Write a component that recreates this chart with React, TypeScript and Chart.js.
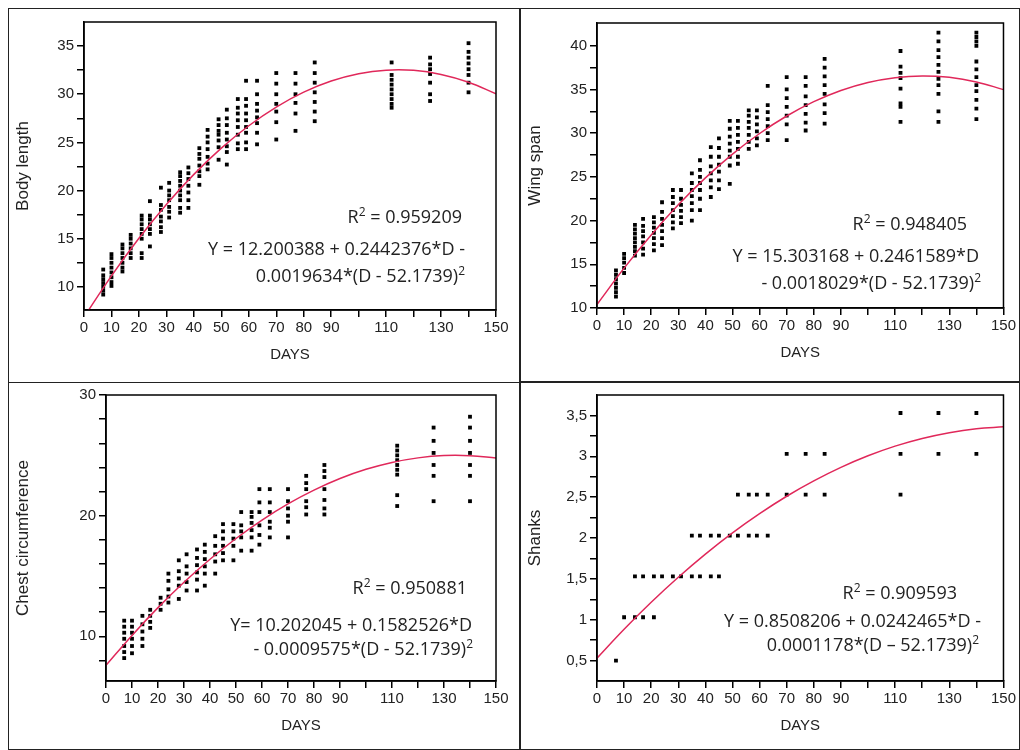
import React, { useEffect, useRef } from "react";
import { Chart, registerables } from "chart.js";
Chart.register(...registerables);

const DAYS = [7, 10, 14, 17, 21, 24, 28, 31, 35, 38, 42, 45, 49, 52, 56, 59, 63, 70, 77, 84, 112, 126, 140];
const CURVE_X = [0, 10, 20, 30, 40, 50, 60, 70, 80, 90, 100, 110, 120, 130, 140, 150];
const X_TICKS = [0, 10, 20, 30, 40, 50, 60, 70, 80, 90, 100, 110, 120, 130, 140, 150];
const X_LABELS = ["0", "10", "20", "30", "40", "50", "60", "70", "80", "90", "", "110", "", "130", "", "150"];

const BODY = [
  [9.2, 9.6, 10, 10.4, 10.8, 11.2, 11.8], [10.1, 10.5, 11, 11.5, 12, 12.5, 13, 13.4], [11.6, 12, 12.5, 13, 13.5, 14, 14.4],
  [13, 13.5, 14, 14.5, 15, 15.4], [13, 13.5, 15, 15.5, 16, 16.5, 17, 17.4], [14.2, 15.5, 16, 16.5, 17, 17.4, 18.9],
  [15.7, 16.2, 16.8, 17.3, 18, 18.5, 20.3], [17.2, 17.8, 18.3, 19, 19.5, 20, 20.8], [17.7, 18.2, 19, 19.5, 20, 20.5, 21, 21.5, 21.9],
  [18.2, 19, 19.8, 20.5, 21.2, 21.8, 22.4], [20.6, 21.5, 22, 22.6, 23.3, 23.8, 24.4], [22.2, 22.8, 23.5, 24.3, 25, 25.6, 26.3],
  [23.2, 24.5, 25.2, 25.8, 26.2, 26.8, 27.4], [22.7, 24, 24.6, 25.3, 26, 26.8, 27.5, 28.4], [24.3, 24.9, 25.8, 26.6, 27.3, 28, 28.6, 29.5],
  [24.3, 25, 26, 26.6, 27.3, 28, 28.8, 29.5, 31.4], [24.8, 26, 27, 27.6, 28.3, 29, 30, 31.4], [25.3, 27.1, 28.2, 29, 30, 31.1, 32.2],
  [26.2, 28, 29.1, 30, 31.1, 32.2], [27.2, 28.2, 29.2, 30.2, 31.2, 32.2, 33.3], [28.6, 29, 29.5, 30, 30.5, 31, 31.5, 32, 33.3],
  [29.3, 30, 31.2, 32.1, 32.6, 33.1, 33.8], [30.2, 31.2, 32, 32.6, 33.2, 33.8, 34.4, 35.3],
];
const BODY_FIT = [6.86, 11.15, 15.05, 18.56, 21.68, 24.4, 26.73, 28.67, 30.22, 31.37, 32.13, 32.5, 32.48, 32.06, 31.25, 30.05];

const WING = [
  [11.3, 11.8, 12.3, 12.8, 13.3, 13.8, 14.3], [14, 14.6, 15.2, 15.7, 16.2], [16, 16.5, 17, 17.5, 18, 18.5, 19, 19.5],
  [16.1, 16.8, 17.5, 18.2, 18.8, 19.4, 20.2], [16.6, 17.3, 18, 18.6, 19.2, 19.8, 20.4], [17.2, 18, 18.8, 19.5, 20.2, 21, 22.1],
  [19.1, 19.8, 20.5, 21.2, 22, 22.7, 23.5], [19.7, 20.4, 21.1, 21.8, 22.5, 23.5], [20, 21.2, 22, 22.8, 23.5, 24.3, 25.4],
  [21.2, 22.5, 23.5, 24.3, 25, 25.8, 26.9], [22.7, 23.8, 24.6, 25.4, 26.2, 27.3, 28.4], [23.6, 24.6, 25.6, 26.4, 27.3, 28.3, 29.4],
  [24.2, 26.3, 27.3, 28, 28.8, 29.6, 30.5, 31.4], [26.5, 27.3, 28.2, 29, 29.8, 30.6, 31.4], [28.2, 29, 29.8, 30.6, 31.3, 32, 32.6],
  [28.6, 29.4, 30.2, 31, 31.8, 32.6], [29.2, 30, 30.8, 31.6, 32.4, 33.2, 35.4], [29.2, 31, 32, 33, 34, 35, 36.4],
  [30.3, 31.2, 32.2, 33.2, 34.2, 35.4, 36.4], [31.1, 32.3, 33.3, 34.5, 35.5, 36.5, 37.5, 38.5],
  [31.3, 33, 33.4, 35.1, 36.3, 36.9, 37.6, 39.4], [31.3, 32.5, 34.5, 35.5, 36.2, 37, 37.8, 38.7, 39.5, 40.5, 41.5],
  [31.6, 32.8, 33.8, 34.8, 35.5, 36.4, 37.3, 38.2, 40, 40.5, 41, 41.5],
];
const WING_FIT = [10.4, 14.56, 18.36, 21.8, 24.88, 27.6, 29.96, 31.96, 33.6, 34.88, 35.8, 36.35, 36.55, 36.39, 35.86, 34.98];

const CHEST = [
  [8.2, 8.7, 9.2, 9.8, 10.3, 10.8, 11.3], [8.6, 9.2, 9.8, 10.3, 10.8, 11.3], [9.2, 9.8, 10.4, 11, 11.7], [10.7, 11.2, 11.7, 12.2],
  [12.2, 12.7, 13.2], [12.8, 13.3, 13.9, 14.6, 15.2], [13.1, 14.2, 14.8, 15.4, 16.3], [13.8, 14.5, 15.2, 15.8, 16.8],
  [13.8, 14.7, 15.3, 15.9, 16.5, 17.2], [14.2, 15.2, 15.8, 16.4, 17, 17.6], [15.2, 16.2, 16.8, 17.5, 18.3], [16.3, 16.9, 17.5, 18.1, 18.7, 19.3],
  [16.3, 17.5, 18.1, 18.7, 19.3], [17.1, 18.2, 18.7, 19.2, 20.3], [17.1, 18.2, 18.8, 19.4, 19.9, 20.3], [17.6, 18.4, 19.2, 20.3, 21.1, 22.2],
  [18.2, 19, 19.5, 20.3, 21.1, 22.2], [18.2, 19.5, 20, 20.6, 21.2, 22.2], [20.1, 20.7, 21.2, 22.2, 22.7, 23.3], [20.1, 20.6, 21.3, 22.2, 23.2, 23.7, 24.2],
  [20.8, 21.7, 23.4, 23.8, 24.2, 24.6, 25, 25.4, 25.8], [21.2, 23.3, 24.2, 25.2, 26.2, 27.3], [21.2, 23.3, 24.2, 25.2, 26.2, 27.3, 28.2],
];
const CHEST_FIT = [7.6, 10.08, 12.38, 14.48, 16.39, 18.11, 19.64, 20.98, 22.12, 23.08, 23.84, 24.41, 24.79, 24.98, 24.97, 24.78];

const SHANKS = [
  [0.5], [1.03], [1.03, 1.53], [1.03, 1.53], [1.03, 1.53], [1.53], [1.53], [1.53], [1.53, 2.03], [1.53, 2.03], [1.53, 2.03], [1.53, 2.03],
  [2.03], [2.03, 2.53], [2.03, 2.53], [2.03, 2.53], [2.03, 2.53], [2.53, 3.03], [2.53, 3.03], [2.53, 3.03],
  [2.53, 3.03, 3.53], [3.03, 3.53], [3.03, 3.53],
];
const SHANKS_FIT = [0.53, 0.884, 1.214, 1.52, 1.803, 2.063, 2.298, 2.511, 2.699, 2.864, 3.006, 3.124, 3.218, 3.289, 3.337, 3.361];

const BODY_Y_TICKS = [10, 12.5, 15, 17.5, 20, 22.5, 25, 27.5, 30, 32.5, 35];
const WING_Y_TICKS = [10, 12.5, 15, 17.5, 20, 22.5, 25, 27.5, 30, 32.5, 35, 37.5, 40];
const CHEST_Y_TICKS = [8, 10, 12, 14, 16, 18, 20, 22, 24, 26, 28, 30];
const SHANKS_Y_TICKS = [0.5, 0.75, 1, 1.25, 1.5, 1.75, 2, 2.25, 2.5, 2.75, 3, 3.25, 3.5];

type PanelCfg = {
  label: string; cols: number[][]; fit: number[]; yTicks: number[]; yMin: number; yMax: number;
  yLabel: (v: number) => string; left: number; top: number; w: number; h: number;
  pad: { l: number; t: number; r: number; b: number; bb: number }; notes: { text: React.ReactNode; right: number; top: number }[];
};

const frame = {
  id: "frame",
  afterDraw(c: any) {
    const a = c.chartArea; const ctx = c.ctx;
    ctx.save(); ctx.strokeStyle = "#000"; ctx.lineWidth = 1.5;
    ctx.strokeRect(a.left, a.top, a.right - a.left, a.bottom - a.top); ctx.restore();
  },
};

function Panel({ p }: { p: PanelCfg }) {
  const ref = useRef<HTMLCanvasElement>(null);
  useEffect(() => {
    const pts: { x: number; y: number }[] = [];
    p.cols.forEach((col, i) => col.forEach((v) => pts.push({ x: DAYS[i], y: v })));
    const chart = new Chart(ref.current!, {
      type: "scatter",
      data: {
        datasets: [
          { data: CURVE_X.map((x, i) => ({ x, y: p.fit[i] })), showLine: true, borderColor: "#e0285a", borderWidth: 1.5, pointRadius: 0, tension: 0.4, order: 0 } as any,
          { data: pts, pointStyle: "rect", pointRadius: 2.7, backgroundColor: "#000", borderWidth: 0, order: 1 } as any,
        ],
      },
      options: {
        animation: false, responsive: false, maintainAspectRatio: false,
        layout: { padding: { left: 0, top: p.pad.t, right: p.pad.r, bottom: p.pad.bb } },
        plugins: { legend: { display: false }, tooltip: { enabled: false } },
        scales: {
          x: {
            type: "linear", min: 0, max: 150,
            afterBuildTicks: (s: any) => { s.ticks = X_TICKS.map((v) => ({ value: v })); },
            afterFit: (s: any) => { s.height = p.pad.b; },
            ticks: { autoSkip: false, maxRotation: 0, color: "#222", font: { family: "Liberation Sans", size: 15 }, padding: 2,
              callback: (v: any) => X_LABELS[X_TICKS.indexOf(Number(v))] ?? "" },
            grid: { drawOnChartArea: false, color: "#000", tickLength: 7, lineWidth: 1.5 },
            border: { color: "#000", width: 1.5 },
            title: { display: true, text: "DAYS", color: "#222", font: { family: "Liberation Sans", size: 15 }, padding: { top: 6 } },
          },
          y: {
            type: "linear", min: p.yMin, max: p.yMax,
            afterBuildTicks: (s: any) => { s.ticks = p.yTicks.map((v) => ({ value: v })); },
            afterFit: (s: any) => { s.width = p.pad.l; },
            ticks: { autoSkip: false, color: "#222", font: { family: "Liberation Sans", size: 15 }, padding: 3, callback: (v: any) => p.yLabel(Number(v)) },
            grid: { drawOnChartArea: false, color: "#000", tickLength: 7, lineWidth: 1.5 },
            border: { color: "#000", width: 1.5 },
            title: { display: true, text: p.label, color: "#222", font: { family: "Liberation Sans", size: 17 }, padding: { bottom: 2 } },
          },
        },
      } as any,
      plugins: [frame],
    });
    return () => chart.destroy();
  }, []);
  return (
    <div style={{ position: "absolute", left: p.left, top: p.top, width: p.w, height: p.h, border: "1.5px solid #222", boxSizing: "border-box", background: "#fff" }}>
      <canvas ref={ref} width={p.w - 3} height={p.h - 3} style={{ display: "block" }} />
      {p.notes.map((n, i) => (
        <div key={i} style={{ position: "absolute", right: p.w - n.right, top: n.top, whiteSpace: "nowrap", font: "18px 'Open Sans'", color: "#222", lineHeight: "22px" }}>{n.text}</div>
      ))}
    </div>
  );
}

const sq = <sup style={{ fontSize: "12px", verticalAlign: "7px", lineHeight: 0 }}>2</sup>;
const five = (v: number) => (v % 5 === 0 ? String(v) : "");

const PANELS: PanelCfg[] = [
  { label: "Body length", cols: BODY, fit: BODY_FIT, yTicks: BODY_Y_TICKS, yMin: 7.6, yMax: 37.5, yLabel: five,
    left: 8, top: 8, w: 512, h: 376, pad: { l: 75, t: 13, r: 22, b: 58, bb: 14 },
    notes: [
      { text: <>R{sq} = 0.959209</>, right: 455, top: 196 },
      { text: <>Y = 12.200388 + 0.2442376*D -</>, right: 458, top: 228 },
      { text: <>0.0019634*(D - 52.1739){sq}</>, right: 458, top: 255 },
    ] },
  { label: "Wing span", cols: WING, fit: WING_FIT, yTicks: WING_Y_TICKS, yMin: 10, yMax: 42.6, yLabel: five,
    left: 520, top: 8, w: 500, h: 374, pad: { l: 76, t: 14, r: 10, b: 58, bb: 14 },
    notes: [
      { text: <>R{sq} = 0.948405</>, right: 448, top: 203 },
      { text: <>Y = 15.303168 + 0.2461589*D</>, right: 460, top: 235 },
      { text: <>- 0.0018029*(D - 52.1739){sq}</>, right: 462, top: 262 },
    ] },
  { label: "Chest circumference", cols: CHEST, fit: CHEST_FIT, yTicks: CHEST_Y_TICKS, yMin: 6.3, yMax: 30, yLabel: (v) => (v % 10 === 0 ? String(v) : ""),
    left: 8, top: 382, w: 512, h: 368, pad: { l: 97, t: 12, r: 22, b: 58, bb: 9 },
    notes: [
      { text: <>R{sq} = 0.950881</>, right: 460, top: 193 },
      { text: <>Y= 10.202045 + 0.1582526*D</>, right: 465, top: 230 },
      { text: <>- 0.0009575*(D - 52.1739){sq}</>, right: 466, top: 254 },
    ] },
  { label: "Shanks", cols: SHANKS, fit: SHANKS_FIT, yTicks: SHANKS_Y_TICKS, yMin: 0.25, yMax: 3.75,
    yLabel: (v) => (Math.abs(v * 2 - Math.round(v * 2)) < 1e-6 ? String(v).replace(".", ",") : ""),
    left: 520, top: 382, w: 500, h: 368, pad: { l: 76, t: 12, r: 12, b: 58, bb: 9 },
    notes: [
      { text: <>R{sq} = 0.909593</>, right: 438, top: 198 },
      { text: <>Y = 0.8508206 + 0.0242465*D -</>, right: 462, top: 226 },
      { text: <>0.0001178*(D – 52.1739){sq}</>, right: 460, top: 250 },
    ] },
];

export default function App() {
  return (
    <div style={{ position: "absolute", left: 0, top: 0, width: 1020, height: 750, background: "#fff", overflow: "hidden" }}>
      {PANELS.map((p, i) => <Panel key={i} p={p} />)}
    </div>
  );
}
